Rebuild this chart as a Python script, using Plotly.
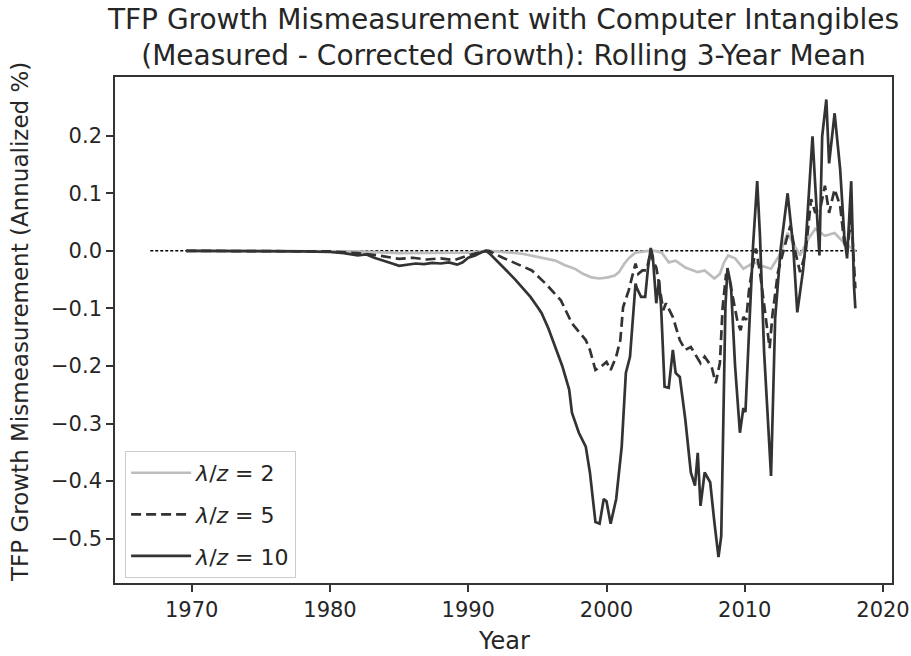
import plotly.graph_objects as go

# ---------------- data ----------------
years_l2 = [1969.6, 1978.0, 1982.0, 1985.0, 1988.0, 1990.0, 1991.3, 1992.0, 1993.9, 1995.0,
            1996.3, 1997.0, 1997.7, 1998.3, 1998.9, 1999.5, 2000.1, 2000.6, 2000.9, 2001.3,
            2001.6, 2002.1, 2002.6, 2003.0, 2003.5, 2004.0, 2004.5, 2005.0, 2005.7, 2006.2,
            2006.6, 2007.1, 2007.5, 2007.8, 2008.2, 2008.5, 2008.8, 2009.3, 2009.9, 2010.3,
            2010.7, 2011.2, 2011.9, 2012.5, 2013.1, 2013.6, 2014.0, 2014.6, 2015.1, 2015.8,
            2016.5, 2016.9, 2017.4, 2017.8, 2018.0]
vals_l2 = [0.0, 0.0, -0.001, -0.004, -0.004, -0.003, 0.0, -0.001, -0.005, -0.010,
           -0.017, -0.025, -0.031, -0.040, -0.046, -0.048, -0.046, -0.043, -0.037, -0.022,
           -0.013, -0.003, -0.001, 0.0, 0.0, -0.003, -0.020, -0.017, -0.029, -0.033,
           -0.037, -0.034, -0.042, -0.048, -0.040, -0.020, -0.008, -0.013, -0.031, -0.026,
           -0.020, -0.026, -0.031, -0.008, 0.031, 0.009, -0.008, 0.021, 0.038, 0.026,
           0.031, 0.021, 0.009, 0.004, 0.0]

years_l5 = [1969.6, 1978.0, 1980.0, 1982.0, 1983.5, 1985.0, 1986.0, 1987.0, 1988.0, 1989.0,
            1990.0, 1991.3, 1991.5, 1992.5, 1993.4, 1994.6, 1995.6, 1996.7, 1997.5, 1998.5,
            1998.8, 1999.2, 1999.6, 2000.0, 2000.3, 2000.7, 2001.0, 2001.2, 2001.6, 2002.1,
            2002.3, 2002.6, 2002.9, 2003.2, 2003.35, 2003.6, 2003.8, 2004.1, 2004.3, 2004.8,
            2005.3, 2005.7, 2006.1, 2006.8, 2007.1, 2007.6, 2007.9, 2008.2, 2008.4, 2008.65,
            2008.9, 2009.3, 2009.5, 2009.7, 2009.9, 2010.1, 2010.3, 2010.5, 2010.8, 2011.1,
            2011.5, 2011.8, 2012.0, 2012.4, 2012.9, 2013.3, 2013.6, 2014.0, 2014.4, 2014.8,
            2015.1, 2015.5, 2015.8, 2016.1, 2016.5, 2016.9, 2017.2, 2017.4, 2017.7, 2017.9,
            2018.0]
vals_l5 = [0.0, 0.0, -0.001, -0.004, -0.008, -0.014, -0.012, -0.015, -0.013, -0.016,
           -0.008, 0.0, 0.0, -0.012, -0.022, -0.034, -0.057, -0.086, -0.126, -0.155,
           -0.172, -0.207, -0.201, -0.193, -0.207, -0.184, -0.155, -0.098, -0.069, -0.022,
           -0.040, -0.034, -0.034, 0.0, -0.017, -0.029, -0.057, -0.103, -0.091, -0.115,
           -0.155, -0.172, -0.167, -0.195, -0.184, -0.201, -0.230, -0.195, -0.098, -0.040,
           -0.051, -0.098, -0.126, -0.138, -0.115, -0.120, -0.070, -0.037, 0.004, -0.037,
           -0.117, -0.169, -0.112, -0.037, 0.009, 0.044, 0.004, -0.037, -0.003, 0.090,
           0.066, 0.078, 0.113, 0.066, 0.107, 0.078, 0.014, -0.003, 0.061, -0.037,
           -0.065]

years_l10 = [1969.6, 1975.0, 1978.0, 1980.0, 1981.0, 1982.0, 1982.6, 1983.2, 1983.9, 1984.5,
             1985.0, 1985.6, 1986.2, 1986.8, 1987.4, 1988.0, 1988.6, 1989.2, 1989.6, 1990.0,
             1990.5, 1991.0, 1991.3, 1991.6, 1992.2, 1992.8, 1993.4, 1993.9, 1994.5, 1995.0,
             1995.3, 1995.8, 1996.3, 1996.8, 1997.3, 1997.5, 1998.0, 1998.5, 1998.8, 1999.2,
             1999.5, 1999.8, 2000.0, 2000.3, 2000.7, 2001.1, 2001.4, 2001.7, 2002.1, 2002.2,
             2002.5, 2002.8, 2003.0, 2003.2, 2003.35, 2003.5, 2003.6, 2003.8, 2003.95, 2004.2,
             2004.5, 2004.8, 2005.0, 2005.3, 2005.7, 2006.1, 2006.4, 2006.6, 2006.8, 2007.1,
             2007.5, 2007.8, 2008.1, 2008.3, 2008.6, 2008.75, 2009.0, 2009.3, 2009.65, 2009.9,
             2010.05, 2010.3, 2010.6, 2010.9, 2011.1, 2011.4, 2011.7, 2011.9, 2012.2, 2012.6,
             2013.1, 2013.5, 2013.8, 2014.2, 2014.4, 2014.7, 2014.9, 2015.1, 2015.4, 2015.6,
             2015.9, 2016.1, 2016.5, 2016.9, 2017.2, 2017.4, 2017.7, 2017.9, 2018.0]
vals_l10 = [0.0, 0.0, -0.001, -0.002, -0.004, -0.008, -0.006, -0.012, -0.018, -0.022,
            -0.026, -0.024, -0.022, -0.023, -0.021, -0.022, -0.020, -0.024, -0.020, -0.012,
            -0.008, -0.002, 0.0, -0.006, -0.020, -0.035, -0.050, -0.063, -0.080, -0.097,
            -0.108, -0.135, -0.167, -0.200, -0.241, -0.281, -0.316, -0.340, -0.385, -0.471,
            -0.474, -0.431, -0.435, -0.474, -0.431, -0.340, -0.212, -0.184, -0.057, -0.065,
            -0.080, -0.080, -0.030, 0.005, -0.010, -0.060, -0.091, -0.051, -0.098, -0.236,
            -0.238, -0.172, -0.212, -0.219, -0.293, -0.385, -0.408, -0.351, -0.443, -0.385,
            -0.402, -0.471, -0.532, -0.495, -0.098, -0.030, -0.060, -0.200, -0.316, -0.273,
            -0.280, -0.146, 0.009, 0.121, 0.026, -0.176, -0.300, -0.391, -0.117, 0.004,
            0.100, 0.009, -0.107, -0.037, 0.009, 0.113, 0.199, 0.113, -0.008, 0.199,
            0.263, 0.152, 0.239, 0.142, 0.026, -0.013, 0.121, -0.060, -0.100]

zero_line_years = [1967.0, 2018.1]
zero_line_vals = [0.0, 0.0]

series_names = ["<i>λ</i>/<i>z</i> = 2", "<i>λ</i>/<i>z</i> = 5", "<i>λ</i>/<i>z</i> = 10"]
x_tick_vals = [1970, 1980, 1990, 2000, 2010, 2020]
y_tick_vals = [0.2, 0.1, 0.0, -0.1, -0.2, -0.3, -0.4, -0.5]

title_text = ("TFP Growth Mismeasurement with Computer Intangibles<br>"
              "(Measured - Corrected Growth): Rolling 3-Year Mean")
x_title = "Year"
y_title = "TFP Growth Mismeasurement (Annualized %)"

# ---------------- figure ----------------
FONT = "DejaVu Sans"
TXT = "#262626"
TICK_SIZE = 21
LABEL_SIZE = 24

fig = go.Figure()

fig.add_trace(go.Scatter(x=zero_line_years, y=zero_line_vals, mode="lines",
                         line=dict(color="black", width=1.5, dash="3px,2px"),
                         showlegend=False, hoverinfo="skip"))

fig.add_trace(go.Scatter(x=years_l2, y=vals_l2, mode="lines", name=series_names[0],
                         legendgroup="a",
                         line=dict(color="#bdbdbd", width=2.7)))
fig.add_trace(go.Scatter(x=years_l5, y=vals_l5, mode="lines", name=series_names[1],
                         legendgroup="b",
                         line=dict(color="#333333", width=2.7, dash="10px,5px")))
fig.add_trace(go.Scatter(x=years_l10, y=vals_l10, mode="lines", name=series_names[2],
                         legendgroup="c",
                         line=dict(color="#333333", width=2.7)))

fig.update_layout(
    width=911, height=656,
    margin=dict(l=115, r=19, t=77, b=73),
    paper_bgcolor="white", plot_bgcolor="white",
    font=dict(family=FONT, color=TXT, size=TICK_SIZE),
    title=dict(text=title_text, x=0.5, xref="paper", xanchor="center",
               y=1 - 29 / 656, yref="container", yanchor="top",
               font=dict(family=FONT, size=28, color=TXT)),
    showlegend=True,
    legend=dict(x=0.013, y=0.01, xanchor="left", yanchor="bottom",
                bgcolor="rgba(255,255,255,0.8)", bordercolor="#cccccc", borderwidth=1,
                font=dict(family=FONT, size=22, color=TXT),
                traceorder="grouped", tracegroupgap=10, itemwidth=60),
)

fig.update_xaxes(range=[1964.45, 2020.65], tickvals=x_tick_vals,
                 ticks="outside", ticklen=7, tickwidth=1.5, tickcolor="#333",
                 showline=True, linecolor="#333", linewidth=1.6, mirror=True,
                 showgrid=False, zeroline=False, ticklabeloverflow="allow",
                 automargin=False,
                 tickfont=dict(family=FONT, size=TICK_SIZE, color=TXT))
fig.update_yaxes(range=[-0.577, 0.302], tickvals=y_tick_vals, tickformat=".1f",
                 ticks="outside", ticklen=7, tickwidth=1.5, tickcolor="#333",
                 showline=True, linecolor="#333", linewidth=1.6, mirror=True,
                 showgrid=False, zeroline=False, automargin=False,
                 tickfont=dict(family=FONT, size=TICK_SIZE, color=TXT))

fig.add_annotation(text=x_title, xref="paper", yref="paper", x=0.5, y=-(641 - 583) / 506,
                   xanchor="center", yanchor="middle", showarrow=False,
                   font=dict(family=FONT, size=LABEL_SIZE, color=TXT))
fig.add_annotation(text=y_title, xref="paper", yref="paper", x=-(115 - 20) / 777,
                   y=0.5 + 8 / 506,
                   xanchor="center", yanchor="middle", showarrow=False, textangle=-90,
                   font=dict(family=FONT, size=23, color=TXT))

fig.write_html("out.html", config={"displayModeBar": False},
               post_script="document.body.style.margin='0px';document.body.style.padding='0px';")
